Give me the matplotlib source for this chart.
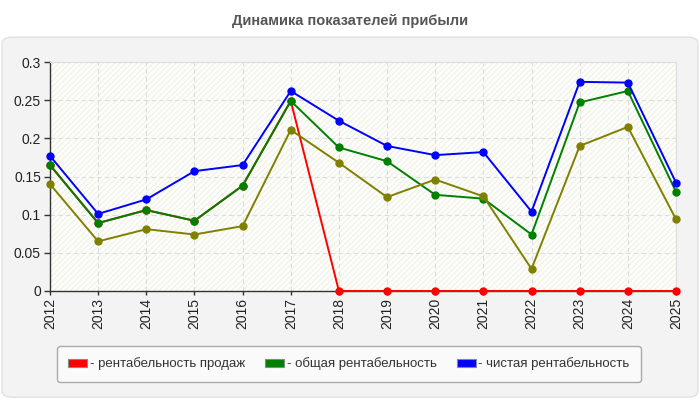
import matplotlib
matplotlib.use("Agg")
import matplotlib.pyplot as plt
from matplotlib.patches import FancyBboxPatch, Rectangle, Patch

plt.rcParams['font.family'] = ['Liberation Sans', 'DejaVu Sans']
plt.rcParams['hatch.color'] = '#ebebeb'
plt.rcParams['hatch.linewidth'] = 0.6

years = [2012, 2013, 2014, 2015, 2016, 2017, 2018, 2019, 2020, 2021, 2022, 2023, 2024, 2025]
sales = [0.165, 0.089, 0.106, 0.092, 0.138, 0.249, 0, 0, 0, 0, 0, 0, 0, 0]
total = [0.165, 0.089, 0.106, 0.092, 0.138, 0.249, 0.188, 0.170, 0.126, 0.121, 0.074, 0.247, 0.262, 0.130]
net = [0.177, 0.101, 0.120, 0.157, 0.165, 0.262, 0.223, 0.190, 0.178, 0.182, 0.104, 0.274, 0.273, 0.142]
other = [0.140, 0.065, 0.081, 0.074, 0.085, 0.211, 0.168, 0.123, 0.146, 0.124, 0.029, 0.190, 0.215, 0.094]

labels = ['- рентабельность продаж', '- общая рентабельность', '- чистая рентабельность']
colors = ['#ff0000', '#008000', '#0000ff']

fig = plt.figure(figsize=(7, 4), dpi=100)
fig.patch.set_facecolor('white')

# панель-подложка
panel = FancyBboxPatch((0.003, 0.007), 0.994, 0.9, boxstyle='round,pad=0,rounding_size=0.015',
                       transform=fig.transFigure, facecolor='#f3f3f3', edgecolor='#e0e0e0', lw=1,
                       zorder=-10)
fig.patches.append(panel)

fig.text(0.5, 0.948, 'Динамика показателей прибыли', ha='center', va='center',
         fontsize=10.5, fontweight='bold', color='#555555')

ax = fig.add_axes([0.0714, 0.2725, 0.8943, 0.5725])
ax.set_facecolor('#fefef8')
ax.add_patch(Rectangle((0, 0), 1, 1, transform=ax.transAxes, facecolor='none',
                       hatch='//////', edgecolor='#ebebeb', lw=0, zorder=0))

ax.plot(years, sales, color=colors[0], lw=1.4, marker='o', ms=5, clip_on=False, zorder=3)
ax.plot(years, total, color=colors[1], lw=1.4, marker='o', ms=5, clip_on=False, zorder=4)
ax.plot(years, net, color=colors[2], lw=1.4, marker='o', ms=5, clip_on=False, zorder=5)
ax.plot(years, other, color='#808000', lw=1.4, marker='o', ms=5, clip_on=False, zorder=6)

ax.set_xlim(2012, 2025)
ax.set_ylim(0, 0.3)
ax.set_xticks(years)
ax.set_xticklabels([str(y) for y in years], rotation=90)
ax.set_yticks([0, 0.05, 0.1, 0.15, 0.2, 0.25, 0.3])
ax.set_yticklabels(['0', '0.05', '0.1', '0.15', '0.2', '0.25', '0.3'])
ax.tick_params(axis='y', labelsize=10, colors='#333333', labelcolor='#222222', length=4.5, width=1, pad=2)
ax.tick_params(axis='x', labelsize=10, colors='#333333', labelcolor='#222222', length=3, width=1, pad=2)
ax.grid(True, color='#dcdcdc', ls=(0, (4, 3)), lw=0.8)
ax.set_axisbelow(True)
ax.spines['top'].set_color('#dddddd')
ax.spines['right'].set_color('#dddddd')
for s in ['left', 'bottom']:
    ax.spines[s].set_color('#333333')
    ax.spines[s].set_linewidth(1)
    ax.spines[s].set_zorder(2.5)

handles = [Patch(facecolor=c, edgecolor='#888888', lw=0.8) for c in colors]
leg = fig.legend(handles, labels, loc='center', bbox_to_anchor=(0.4986, 0.09), ncol=3,
                 fontsize=9.5, frameon=True, fancybox=True, edgecolor='#aaaaaa',
                 facecolor='#fafafa', framealpha=1, handlelength=1.42, handleheight=0.6,
                 handletextpad=0.2, columnspacing=1.55, borderpad=0.85)
for t in leg.get_texts():
    t.set_color('#333333')

fig.savefig('out.png', dpi=100)
